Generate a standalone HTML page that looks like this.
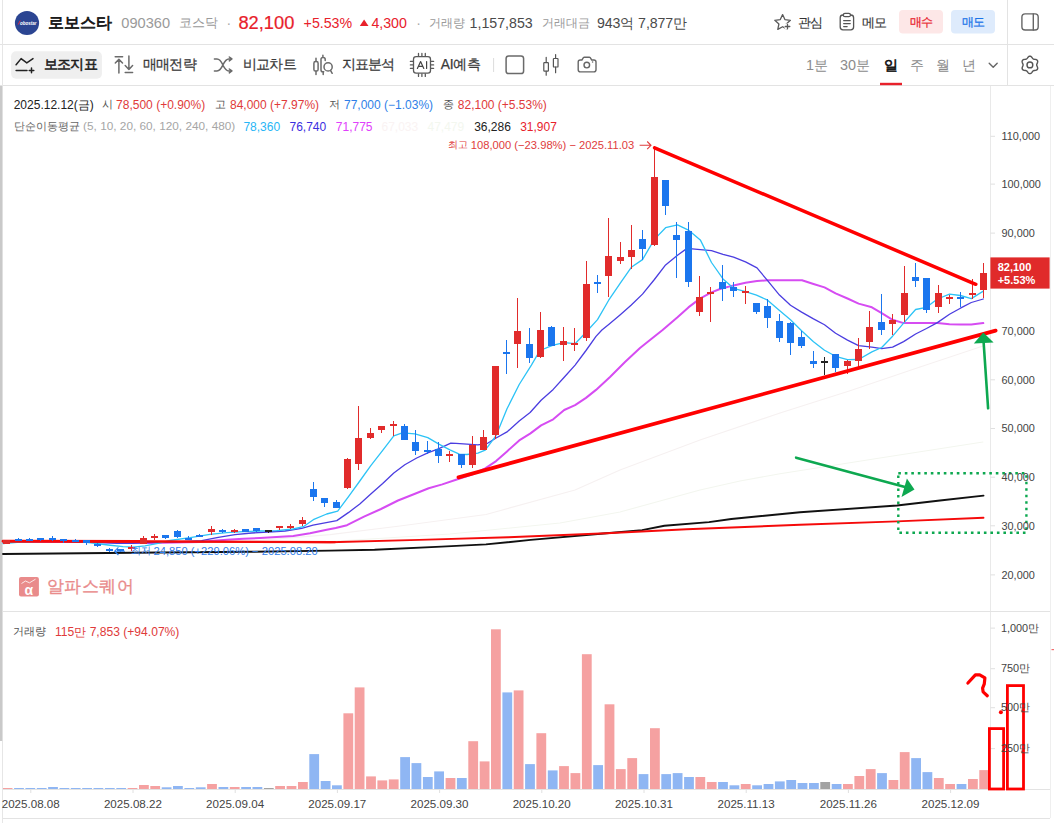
<!DOCTYPE html>
<html lang="ko"><head><meta charset="utf-8"><title>로보스타 090360</title>
<style>
html,body{margin:0;padding:0;background:#fff;}
body{width:1054px;height:823px;position:relative;overflow:hidden;font-family:"Liberation Sans",sans-serif;}
.t{position:absolute;white-space:nowrap;line-height:1;letter-spacing:0;}
</style></head><body>
<svg width="1054" height="823" viewBox="0 0 1054 823" style="position:absolute;left:0;top:0">
<rect x="0" y="0" width="1054" height="823" fill="#fff"/>
<line x1="0" y1="44.5" x2="1054" y2="44.5" stroke="#e3e3e3"/>
<line x1="0" y1="85.5" x2="1054" y2="85.5" stroke="#e3e3e3"/>
<line x1="2.5" y1="0" x2="2.5" y2="823" stroke="#e6e6e6"/>
<rect x="0" y="86" width="2.2" height="655" fill="#c9c9c9"/>
<line x1="1007.5" y1="0" x2="1007.5" y2="85" stroke="#e3e3e3"/>
<line x1="990.5" y1="86" x2="990.5" y2="789" stroke="#e9e9e9"/>
<line x1="1050.5" y1="86" x2="1050.5" y2="818" stroke="#efefef"/>
<line x1="3" y1="611.5" x2="1050" y2="611.5" stroke="#e3e3e3"/>
<line x1="3" y1="789.5" x2="1050" y2="789.5" stroke="#e3e3e3"/>
<line x1="3" y1="818.5" x2="1050" y2="818.5" stroke="#e3e3e3"/>
<line x1="990.5" y1="136.3" x2="995" y2="136.3" stroke="#e0e0e0"/>
<line x1="990.5" y1="184.1" x2="995" y2="184.1" stroke="#e0e0e0"/>
<line x1="990.5" y1="233.1" x2="995" y2="233.1" stroke="#e0e0e0"/>
<line x1="990.5" y1="281.8" x2="995" y2="281.8" stroke="#e0e0e0"/>
<line x1="990.5" y1="331.2" x2="995" y2="331.2" stroke="#e0e0e0"/>
<line x1="990.5" y1="379.8" x2="995" y2="379.8" stroke="#e0e0e0"/>
<line x1="990.5" y1="428.5" x2="995" y2="428.5" stroke="#e0e0e0"/>
<line x1="990.5" y1="477.2" x2="995" y2="477.2" stroke="#e0e0e0"/>
<line x1="990.5" y1="525.8" x2="995" y2="525.8" stroke="#e0e0e0"/>
<line x1="990.5" y1="574.9" x2="995" y2="574.9" stroke="#e0e0e0"/>
<line x1="990.5" y1="628.1" x2="995" y2="628.1" stroke="#e0e0e0"/>
<line x1="990.5" y1="668.7" x2="995" y2="668.7" stroke="#e0e0e0"/>
<line x1="990.5" y1="707.7" x2="995" y2="707.7" stroke="#e0e0e0"/>
<line x1="990.5" y1="748.6" x2="995" y2="748.6" stroke="#e0e0e0"/>
<line x1="30.8" y1="789.5" x2="30.8" y2="793" stroke="#e0e0e0"/>
<line x1="133.0" y1="789.5" x2="133.0" y2="793" stroke="#e0e0e0"/>
<line x1="235.2" y1="789.5" x2="235.2" y2="793" stroke="#e0e0e0"/>
<line x1="337.4" y1="789.5" x2="337.4" y2="793" stroke="#e0e0e0"/>
<line x1="439.6" y1="789.5" x2="439.6" y2="793" stroke="#e0e0e0"/>
<line x1="541.8" y1="789.5" x2="541.8" y2="793" stroke="#e0e0e0"/>
<line x1="644.0" y1="789.5" x2="644.0" y2="793" stroke="#e0e0e0"/>
<line x1="746.2" y1="789.5" x2="746.2" y2="793" stroke="#e0e0e0"/>
<line x1="848.4" y1="789.5" x2="848.4" y2="793" stroke="#e0e0e0"/>
<line x1="950.6" y1="789.5" x2="950.6" y2="793" stroke="#e0e0e0"/>
<rect x="3.0" y="788.0" width="9.5" height="1.0" fill="#f5a1a1"/>
<rect x="14.1" y="788.0" width="9.8" height="1.0" fill="#8fb6f3"/>
<rect x="25.4" y="788.0" width="9.8" height="1.0" fill="#8fb6f3"/>
<rect x="36.8" y="788.0" width="9.8" height="1.0" fill="#8fb6f3"/>
<rect x="48.1" y="787.0" width="9.8" height="2.0" fill="#8fb6f3"/>
<rect x="59.5" y="788.0" width="9.8" height="1.0" fill="#8fb6f3"/>
<rect x="70.8" y="788.0" width="9.8" height="1.0" fill="#8fb6f3"/>
<rect x="82.2" y="788.0" width="9.8" height="1.0" fill="#8fb6f3"/>
<rect x="93.5" y="788.0" width="9.8" height="1.0" fill="#8fb6f3"/>
<rect x="104.9" y="788.0" width="9.8" height="1.0" fill="#8fb6f3"/>
<rect x="116.3" y="788.0" width="9.8" height="1.0" fill="#8fb6f3"/>
<rect x="127.6" y="788.0" width="9.8" height="1.0" fill="#f5a1a1"/>
<rect x="139.0" y="785.0" width="9.8" height="4.0" fill="#f5a1a1"/>
<rect x="150.3" y="786.0" width="9.8" height="3.0" fill="#f5a1a1"/>
<rect x="161.7" y="787.3" width="9.8" height="1.7" fill="#8fb6f3"/>
<rect x="173.0" y="786.0" width="9.8" height="3.0" fill="#8fb6f3"/>
<rect x="184.4" y="788.0" width="9.8" height="1.0" fill="#8fb6f3"/>
<rect x="195.8" y="787.3" width="9.8" height="1.7" fill="#8fb6f3"/>
<rect x="207.1" y="784.0" width="9.8" height="5.0" fill="#f5a1a1"/>
<rect x="218.5" y="787.0" width="9.8" height="2.0" fill="#8fb6f3"/>
<rect x="229.8" y="787.0" width="9.8" height="2.0" fill="#f5a1a1"/>
<rect x="241.2" y="787.0" width="9.8" height="2.0" fill="#8fb6f3"/>
<rect x="252.5" y="787.0" width="9.8" height="2.0" fill="#8fb6f3"/>
<rect x="263.9" y="788.0" width="9.8" height="1.0" fill="#a3a3a3"/>
<rect x="275.2" y="786.0" width="9.8" height="3.0" fill="#f5a1a1"/>
<rect x="286.6" y="786.0" width="9.8" height="3.0" fill="#f5a1a1"/>
<rect x="298.0" y="782.0" width="9.8" height="7.0" fill="#f5a1a1"/>
<rect x="309.3" y="754.1" width="9.8" height="34.9" fill="#8fb6f3"/>
<rect x="320.7" y="781.0" width="9.8" height="8.0" fill="#8fb6f3"/>
<rect x="332.0" y="785.3" width="9.8" height="3.7" fill="#8fb6f3"/>
<rect x="343.4" y="713.3" width="9.8" height="75.7" fill="#f5a1a1"/>
<rect x="354.7" y="687.4" width="9.8" height="101.6" fill="#f5a1a1"/>
<rect x="366.1" y="776.4" width="9.8" height="12.6" fill="#f5a1a1"/>
<rect x="377.4" y="780.4" width="9.8" height="8.6" fill="#f5a1a1"/>
<rect x="388.8" y="779.4" width="9.8" height="9.6" fill="#f5a1a1"/>
<rect x="400.2" y="757.1" width="9.8" height="31.9" fill="#8fb6f3"/>
<rect x="411.5" y="763.1" width="9.8" height="25.9" fill="#8fb6f3"/>
<rect x="422.9" y="777.0" width="9.8" height="12.0" fill="#8fb6f3"/>
<rect x="434.2" y="771.4" width="9.8" height="17.6" fill="#8fb6f3"/>
<rect x="445.6" y="778.0" width="9.8" height="11.0" fill="#f5a1a1"/>
<rect x="456.9" y="778.0" width="9.8" height="11.0" fill="#8fb6f3"/>
<rect x="468.3" y="741.2" width="9.8" height="47.8" fill="#f5a1a1"/>
<rect x="479.7" y="761.4" width="9.8" height="27.6" fill="#f5a1a1"/>
<rect x="491.0" y="629.3" width="9.8" height="159.7" fill="#f5a1a1"/>
<rect x="502.4" y="692.4" width="9.8" height="96.6" fill="#8fb6f3"/>
<rect x="513.7" y="690.4" width="9.8" height="98.6" fill="#f5a1a1"/>
<rect x="525.1" y="764.1" width="9.8" height="24.9" fill="#8fb6f3"/>
<rect x="536.4" y="733.2" width="9.8" height="55.8" fill="#f5a1a1"/>
<rect x="547.8" y="770.4" width="9.8" height="18.6" fill="#8fb6f3"/>
<rect x="559.1" y="766.1" width="9.8" height="22.9" fill="#f5a1a1"/>
<rect x="570.5" y="773.1" width="9.8" height="15.9" fill="#f5a1a1"/>
<rect x="581.9" y="654.2" width="9.8" height="134.8" fill="#f5a1a1"/>
<rect x="593.2" y="765.1" width="9.8" height="23.9" fill="#8fb6f3"/>
<rect x="604.6" y="704.3" width="9.8" height="84.7" fill="#f5a1a1"/>
<rect x="615.9" y="769.1" width="9.8" height="19.9" fill="#f5a1a1"/>
<rect x="627.3" y="758.1" width="9.8" height="30.9" fill="#f5a1a1"/>
<rect x="638.6" y="774.1" width="9.8" height="14.9" fill="#8fb6f3"/>
<rect x="650.0" y="728.2" width="9.8" height="60.8" fill="#f5a1a1"/>
<rect x="661.3" y="774.1" width="9.8" height="14.9" fill="#8fb6f3"/>
<rect x="672.7" y="773.1" width="9.8" height="15.9" fill="#8fb6f3"/>
<rect x="684.1" y="777.0" width="9.8" height="12.0" fill="#8fb6f3"/>
<rect x="695.4" y="777.0" width="9.8" height="12.0" fill="#f5a1a1"/>
<rect x="706.8" y="782.0" width="9.8" height="7.0" fill="#f5a1a1"/>
<rect x="718.1" y="782.0" width="9.8" height="7.0" fill="#8fb6f3"/>
<rect x="729.5" y="785.3" width="9.8" height="3.7" fill="#8fb6f3"/>
<rect x="740.8" y="784.0" width="9.8" height="5.0" fill="#f5a1a1"/>
<rect x="752.2" y="785.3" width="9.8" height="3.7" fill="#8fb6f3"/>
<rect x="763.6" y="784.0" width="9.8" height="5.0" fill="#8fb6f3"/>
<rect x="774.9" y="781.4" width="9.8" height="7.6" fill="#8fb6f3"/>
<rect x="786.3" y="780.0" width="9.8" height="9.0" fill="#8fb6f3"/>
<rect x="797.6" y="783.0" width="9.8" height="6.0" fill="#8fb6f3"/>
<rect x="809.0" y="783.0" width="9.8" height="6.0" fill="#8fb6f3"/>
<rect x="820.3" y="782.0" width="9.8" height="7.0" fill="#a3a3a3"/>
<rect x="831.7" y="784.0" width="9.8" height="5.0" fill="#8fb6f3"/>
<rect x="843.0" y="784.0" width="9.8" height="5.0" fill="#f5a1a1"/>
<rect x="854.4" y="776.0" width="9.8" height="13.0" fill="#f5a1a1"/>
<rect x="865.8" y="769.1" width="9.8" height="19.9" fill="#f5a1a1"/>
<rect x="877.1" y="773.1" width="9.8" height="15.9" fill="#8fb6f3"/>
<rect x="888.5" y="780.0" width="9.8" height="9.0" fill="#f5a1a1"/>
<rect x="899.8" y="752.1" width="9.8" height="36.9" fill="#f5a1a1"/>
<rect x="911.2" y="758.1" width="9.8" height="30.9" fill="#8fb6f3"/>
<rect x="922.5" y="772.1" width="9.8" height="16.9" fill="#8fb6f3"/>
<rect x="933.9" y="778.0" width="9.8" height="11.0" fill="#f5a1a1"/>
<rect x="945.2" y="784.0" width="9.8" height="5.0" fill="#f5a1a1"/>
<rect x="956.6" y="784.0" width="9.8" height="5.0" fill="#8fb6f3"/>
<rect x="968.0" y="779.0" width="9.8" height="10.0" fill="#f5a1a1"/>
<rect x="979.3" y="770.1" width="9.8" height="18.9" fill="#f5a1a1"/>
<polyline points="250.0,541.0 330.0,534.6 400.0,526.0 486.0,514.5 575.0,490.0 620.0,470.0 700.0,440.0 780.0,413.0 850.0,390.8 920.0,367.0 983.0,346.0" fill="none" stroke="#f6f1f1" stroke-width="1.1" stroke-linejoin="round" stroke-linecap="round" />
<polyline points="330.0,541.5 450.0,534.0 560.0,523.0 620.0,512.0 660.0,501.0 700.0,490.0 740.0,481.0 780.0,473.8 880.0,458.0 983.0,442.0" fill="none" stroke="#f3f6ef" stroke-width="1.1" stroke-linejoin="round" stroke-linecap="round" />
<polyline points="3.0,541.5 100.0,542.0 150.0,543.0 200.0,542.0 210.0,541.0 226.7,539.7 243.3,538.7 260.0,538.0 276.7,537.0 293.3,536.0 310.0,533.3 326.7,529.7 335.7,528.0 347.0,525.2 364.0,516.7 381.0,509.0 398.0,500.5 415.0,493.7 428.7,488.3 442.3,484.4 456.0,479.8 472.0,474.5 485.2,468.4 496.1,461.1 507.0,451.4 519.2,440.4 530.1,433.6 541.1,425.4 553.2,419.3 564.2,410.0 575.1,405.2 586.0,397.9 596.0,389.9 610.0,377.0 625.0,362.0 640.0,348.0 650.0,340.0 662.6,330.0 677.5,317.2 688.4,307.4 700.3,298.4 711.5,292.4 720.0,289.0 733.6,285.4 745.5,282.7 757.0,281.0 767.6,280.3 779.5,280.3 790.5,280.3 802.0,280.3 813.5,284.0 824.5,287.4 835.6,293.4 847.5,298.5 858.6,303.6 871.9,307.3 881.7,313.2 892.6,319.8 903.6,323.1 915.6,323.1 926.5,323.1 937.4,323.1 949.5,324.2 960.4,324.4 971.3,324.4 983.3,323.1" fill="none" stroke="#d64cf2" stroke-width="2" stroke-linejoin="round" stroke-linecap="round" />
<polyline points="3.0,541.5 60.0,541.5 100.0,542.5 116.7,543.3 133.0,543.3 150.0,542.5 175.7,542.0 201.7,540.7 218.3,537.3 235.0,534.7 251.7,533.0 268.3,532.0 285.0,531.0 301.7,528.3 313.0,525.2 336.8,520.6 348.7,512.4 359.8,503.9 370.8,494.1 382.7,483.5 393.8,473.0 404.8,464.8 416.7,458.0 427.8,452.9 438.9,448.7 450.8,443.1 456.0,443.3 477.9,444.8 487.6,443.3 496.1,438.0 507.0,431.9 519.2,421.0 530.1,412.5 541.1,400.3 553.2,389.4 564.2,377.2 575.1,365.1 586.0,350.5 596.0,336.4 601.9,330.0 608.7,324.5 620.3,314.7 631.3,305.0 642.5,294.1 654.4,279.5 665.6,264.9 677.5,255.2 687.0,248.4 700.3,249.6 711.5,250.6 723.0,254.3 733.6,257.1 745.5,261.9 757.0,267.9 767.6,280.6 779.5,295.1 790.5,305.3 801.6,312.1 813.5,318.9 824.5,324.8 835.6,333.3 847.5,340.1 858.6,345.6 871.9,347.1 881.7,348.6 892.6,347.1 903.6,341.6 915.6,334.0 926.5,328.5 937.4,322.6 949.5,314.3 960.4,308.2 971.3,302.5 983.3,299.0" fill="none" stroke="#4b3de0" stroke-width="1.3" stroke-linejoin="round" stroke-linecap="round" />
<polyline points="3.0,543.5 20.0,542.0 50.0,541.0 80.0,541.5 93.0,543.0 108.0,545.0 123.0,546.7 133.0,547.2 145.0,545.8 158.0,543.3 170.0,540.5 190.0,537.7 210.0,534.3 226.7,532.7 243.3,531.7 260.0,531.0 276.7,530.7 293.3,529.0 303.3,526.7 313.3,519.7 326.7,514.0 337.7,511.1 348.7,496.3 359.8,481.0 370.8,465.7 382.7,450.4 393.8,435.9 402.3,432.9 415.0,433.9 427.8,437.6 438.9,444.1 449.9,449.9 459.3,454.1 466.9,454.5 477.9,453.1 485.2,450.2 496.1,435.6 507.0,408.8 519.2,384.5 531.4,365.1 539.9,350.5 553.2,345.1 564.2,342.7 575.1,343.7 586.0,332.3 597.5,319.6 608.7,300.2 620.3,283.1 631.3,267.3 642.5,259.6 654.4,239.4 665.6,227.7 677.5,224.8 688.4,230.1 700.3,239.9 711.5,262.5 723.0,278.9 733.6,288.3 745.5,291.7 756.5,295.1 767.6,300.2 779.5,310.4 790.5,319.7 801.6,330.8 813.5,341.8 824.5,350.3 835.6,356.3 847.5,359.7 858.6,359.5 871.9,351.9 881.7,347.5 892.6,336.2 903.6,323.1 915.6,309.5 926.5,307.3 937.4,299.0 949.5,294.2 960.4,295.5 971.3,298.6 983.3,291.1" fill="none" stroke="#2cc3f6" stroke-width="1.3" stroke-linejoin="round" stroke-linecap="round" />
<polyline points="3.0,554.0 160.0,552.5 250.0,551.8 330.0,550.6 374.6,549.8 441.5,546.6 486.0,544.4 530.7,539.9 606.5,533.3 642.1,530.1 664.4,525.7 709.0,522.1 731.3,519.0 800.0,512.3 897.0,505.5 940.0,500.5 983.5,495.6" fill="none" stroke="#111111" stroke-width="1.9" stroke-linejoin="round" stroke-linecap="round" />
<polyline points="3.0,541.2 160.0,541.5 330.0,542.2 419.2,539.9 508.4,537.3 606.5,533.3 686.7,529.2 800.0,524.8 897.0,521.4 983.5,517.7" fill="none" stroke="#f50a0a" stroke-width="1.9" stroke-linejoin="round" stroke-linecap="round" />
<polyline points="3.0,541.2 160.0,541.5 335.0,542.2" fill="none" stroke="#f50a0a" stroke-width="2.2" stroke-linejoin="round" stroke-linecap="round" />
<polyline points="3.0,541.2 145.0,541.4" fill="none" stroke="#f50a0a" stroke-width="2.8" stroke-linejoin="round" stroke-linecap="round" />
<rect x="6" y="540" width="1" height="4" fill="#e12b2b"/>
<rect x="3" y="540" width="7" height="4" fill="#e12b2b"/>
<rect x="18" y="538" width="1" height="3" fill="#1b76ee"/>
<rect x="15" y="539" width="7" height="2" fill="#1b76ee"/>
<rect x="29" y="538" width="1" height="3" fill="#1b76ee"/>
<rect x="26" y="539" width="7" height="2" fill="#1b76ee"/>
<rect x="40" y="538" width="1" height="3" fill="#1b76ee"/>
<rect x="37" y="538" width="7" height="2" fill="#1b76ee"/>
<rect x="52" y="536" width="1" height="5" fill="#1b76ee"/>
<rect x="49" y="538" width="7" height="2" fill="#1b76ee"/>
<rect x="63" y="539" width="1" height="4" fill="#1b76ee"/>
<rect x="60" y="539" width="7" height="2" fill="#1b76ee"/>
<rect x="75" y="539" width="1" height="3" fill="#1b76ee"/>
<rect x="72" y="540" width="7" height="2" fill="#1b76ee"/>
<rect x="86" y="540" width="1" height="5" fill="#1b76ee"/>
<rect x="83" y="540" width="7" height="3" fill="#1b76ee"/>
<rect x="97" y="543" width="1" height="4" fill="#1b76ee"/>
<rect x="94" y="544" width="7" height="2" fill="#1b76ee"/>
<rect x="109" y="548" width="1" height="4" fill="#1b76ee"/>
<rect x="106" y="549" width="7" height="2" fill="#1b76ee"/>
<rect x="120" y="549" width="1" height="3" fill="#1b76ee"/>
<rect x="117" y="549" width="7" height="2" fill="#1b76ee"/>
<rect x="131" y="545" width="1" height="6" fill="#e12b2b"/>
<rect x="128" y="547" width="7" height="2" fill="#e12b2b"/>
<rect x="143" y="536" width="1" height="8" fill="#e12b2b"/>
<rect x="140" y="538" width="7" height="6" fill="#e12b2b"/>
<rect x="154" y="534" width="1" height="6" fill="#e12b2b"/>
<rect x="151" y="536" width="7" height="2" fill="#e12b2b"/>
<rect x="165" y="535" width="1" height="4" fill="#1b76ee"/>
<rect x="162" y="535" width="7" height="3" fill="#1b76ee"/>
<rect x="177" y="530" width="1" height="8" fill="#1b76ee"/>
<rect x="174" y="531" width="7" height="6" fill="#1b76ee"/>
<rect x="188" y="536" width="1" height="4" fill="#1b76ee"/>
<rect x="185" y="538" width="7" height="2" fill="#1b76ee"/>
<rect x="199" y="534" width="1" height="3" fill="#1b76ee"/>
<rect x="196" y="535" width="7" height="2" fill="#1b76ee"/>
<rect x="211" y="526" width="1" height="9" fill="#e12b2b"/>
<rect x="208" y="529" width="7" height="3" fill="#e12b2b"/>
<rect x="222" y="529" width="1" height="4" fill="#1b76ee"/>
<rect x="219" y="530" width="7" height="2" fill="#1b76ee"/>
<rect x="234" y="529" width="1" height="4" fill="#e12b2b"/>
<rect x="231" y="530" width="7" height="2" fill="#e12b2b"/>
<rect x="245" y="529" width="1" height="3" fill="#1b76ee"/>
<rect x="242" y="529" width="7" height="3" fill="#1b76ee"/>
<rect x="256" y="528" width="1" height="4" fill="#1b76ee"/>
<rect x="253" y="528" width="7" height="3" fill="#1b76ee"/>
<rect x="268" y="530" width="1" height="3" fill="#222222"/>
<rect x="265" y="530" width="7" height="2" fill="#222222"/>
<rect x="279" y="526" width="1" height="4" fill="#e12b2b"/>
<rect x="276" y="526" width="7" height="2" fill="#e12b2b"/>
<rect x="290" y="524" width="1" height="5" fill="#e12b2b"/>
<rect x="287" y="526" width="7" height="2" fill="#e12b2b"/>
<rect x="302" y="517" width="1" height="9" fill="#e12b2b"/>
<rect x="299" y="520" width="7" height="4" fill="#e12b2b"/>
<rect x="313" y="482" width="1" height="19" fill="#1b76ee"/>
<rect x="310" y="489" width="7" height="8" fill="#1b76ee"/>
<rect x="324" y="498" width="1" height="9" fill="#1b76ee"/>
<rect x="321" y="498" width="7" height="5" fill="#1b76ee"/>
<rect x="336" y="500" width="1" height="8" fill="#1b76ee"/>
<rect x="333" y="502" width="7" height="6" fill="#1b76ee"/>
<rect x="347" y="458" width="1" height="31" fill="#e12b2b"/>
<rect x="344" y="459" width="7" height="29" fill="#e12b2b"/>
<rect x="358" y="406" width="1" height="64" fill="#e12b2b"/>
<rect x="355" y="438" width="7" height="26" fill="#e12b2b"/>
<rect x="370" y="428" width="1" height="11" fill="#e12b2b"/>
<rect x="367" y="433" width="7" height="5" fill="#e12b2b"/>
<rect x="381" y="426" width="1" height="7" fill="#e12b2b"/>
<rect x="378" y="426" width="7" height="4" fill="#e12b2b"/>
<rect x="393" y="421" width="1" height="15" fill="#e12b2b"/>
<rect x="390" y="424" width="7" height="2" fill="#e12b2b"/>
<rect x="404" y="424" width="1" height="16" fill="#1b76ee"/>
<rect x="401" y="426" width="7" height="14" fill="#1b76ee"/>
<rect x="415" y="430" width="1" height="25" fill="#1b76ee"/>
<rect x="412" y="442" width="7" height="9" fill="#1b76ee"/>
<rect x="427" y="441" width="1" height="13" fill="#1b76ee"/>
<rect x="424" y="450" width="7" height="2" fill="#1b76ee"/>
<rect x="438" y="442" width="1" height="21" fill="#1b76ee"/>
<rect x="435" y="449" width="7" height="7" fill="#1b76ee"/>
<rect x="449" y="451" width="1" height="11" fill="#e12b2b"/>
<rect x="446" y="454" width="7" height="2" fill="#e12b2b"/>
<rect x="461" y="454" width="1" height="14" fill="#1b76ee"/>
<rect x="458" y="454" width="7" height="11" fill="#1b76ee"/>
<rect x="472" y="436" width="1" height="32" fill="#e12b2b"/>
<rect x="469" y="445" width="7" height="20" fill="#e12b2b"/>
<rect x="483" y="430" width="1" height="20" fill="#e12b2b"/>
<rect x="480" y="437" width="7" height="13" fill="#e12b2b"/>
<rect x="495" y="366" width="1" height="73" fill="#e12b2b"/>
<rect x="492" y="366" width="7" height="69" fill="#e12b2b"/>
<rect x="506" y="340" width="1" height="34" fill="#1b76ee"/>
<rect x="503" y="352" width="7" height="2" fill="#1b76ee"/>
<rect x="517" y="298" width="1" height="70" fill="#e12b2b"/>
<rect x="514" y="331" width="7" height="13" fill="#e12b2b"/>
<rect x="529" y="328" width="1" height="35" fill="#1b76ee"/>
<rect x="526" y="344" width="7" height="14" fill="#1b76ee"/>
<rect x="540" y="312" width="1" height="46" fill="#e12b2b"/>
<rect x="537" y="330" width="7" height="27" fill="#e12b2b"/>
<rect x="551" y="326" width="1" height="20" fill="#1b76ee"/>
<rect x="548" y="327" width="7" height="19" fill="#1b76ee"/>
<rect x="563" y="327" width="1" height="34" fill="#e12b2b"/>
<rect x="560" y="341" width="7" height="4" fill="#e12b2b"/>
<rect x="574" y="328" width="1" height="23" fill="#e12b2b"/>
<rect x="571" y="343" width="7" height="2" fill="#e12b2b"/>
<rect x="586" y="261" width="1" height="80" fill="#e12b2b"/>
<rect x="583" y="284" width="7" height="54" fill="#e12b2b"/>
<rect x="597" y="275" width="1" height="18" fill="#1b76ee"/>
<rect x="594" y="282" width="7" height="2" fill="#1b76ee"/>
<rect x="608" y="218" width="1" height="79" fill="#e12b2b"/>
<rect x="605" y="256" width="7" height="20" fill="#e12b2b"/>
<rect x="620" y="242" width="1" height="22" fill="#e12b2b"/>
<rect x="617" y="257" width="7" height="4" fill="#e12b2b"/>
<rect x="631" y="225" width="1" height="44" fill="#e12b2b"/>
<rect x="628" y="250" width="7" height="7" fill="#e12b2b"/>
<rect x="642" y="230" width="1" height="30" fill="#1b76ee"/>
<rect x="639" y="239" width="7" height="10" fill="#1b76ee"/>
<rect x="654" y="146" width="1" height="100" fill="#e12b2b"/>
<rect x="651" y="177" width="7" height="68" fill="#e12b2b"/>
<rect x="665" y="180" width="1" height="35" fill="#1b76ee"/>
<rect x="662" y="180" width="7" height="26" fill="#1b76ee"/>
<rect x="676" y="222" width="1" height="56" fill="#1b76ee"/>
<rect x="673" y="235" width="7" height="5" fill="#1b76ee"/>
<rect x="688" y="222" width="1" height="65" fill="#1b76ee"/>
<rect x="685" y="231" width="7" height="51" fill="#1b76ee"/>
<rect x="699" y="276" width="1" height="40" fill="#e12b2b"/>
<rect x="696" y="297" width="7" height="15" fill="#e12b2b"/>
<rect x="710" y="287" width="1" height="35" fill="#e12b2b"/>
<rect x="707" y="292" width="7" height="2" fill="#e12b2b"/>
<rect x="722" y="265" width="1" height="36" fill="#1b76ee"/>
<rect x="719" y="282" width="7" height="7" fill="#1b76ee"/>
<rect x="733" y="282" width="1" height="15" fill="#1b76ee"/>
<rect x="730" y="287" width="7" height="4" fill="#1b76ee"/>
<rect x="745" y="286" width="1" height="18" fill="#e12b2b"/>
<rect x="742" y="291" width="7" height="2" fill="#e12b2b"/>
<rect x="756" y="303" width="1" height="11" fill="#1b76ee"/>
<rect x="753" y="303" width="7" height="9" fill="#1b76ee"/>
<rect x="767" y="299" width="1" height="29" fill="#1b76ee"/>
<rect x="764" y="306" width="7" height="12" fill="#1b76ee"/>
<rect x="779" y="314" width="1" height="28" fill="#1b76ee"/>
<rect x="776" y="321" width="7" height="17" fill="#1b76ee"/>
<rect x="790" y="322" width="1" height="33" fill="#1b76ee"/>
<rect x="787" y="323" width="7" height="20" fill="#1b76ee"/>
<rect x="801" y="331" width="1" height="17" fill="#1b76ee"/>
<rect x="798" y="337" width="7" height="9" fill="#1b76ee"/>
<rect x="813" y="351" width="1" height="17" fill="#1b76ee"/>
<rect x="810" y="361" width="7" height="3" fill="#1b76ee"/>
<rect x="824" y="357" width="1" height="18" fill="#222222"/>
<rect x="821" y="361" width="7" height="2" fill="#222222"/>
<rect x="835" y="354" width="1" height="18" fill="#1b76ee"/>
<rect x="832" y="354" width="7" height="14" fill="#1b76ee"/>
<rect x="847" y="360" width="1" height="14" fill="#e12b2b"/>
<rect x="844" y="361" width="7" height="5" fill="#e12b2b"/>
<rect x="858" y="338" width="1" height="29" fill="#e12b2b"/>
<rect x="855" y="349" width="7" height="12" fill="#e12b2b"/>
<rect x="869" y="311" width="1" height="38" fill="#e12b2b"/>
<rect x="866" y="327" width="7" height="15" fill="#e12b2b"/>
<rect x="881" y="294" width="1" height="41" fill="#1b76ee"/>
<rect x="878" y="322" width="7" height="8" fill="#1b76ee"/>
<rect x="892" y="314" width="1" height="21" fill="#e12b2b"/>
<rect x="889" y="320" width="7" height="4" fill="#e12b2b"/>
<rect x="904" y="266" width="1" height="56" fill="#e12b2b"/>
<rect x="901" y="293" width="7" height="22" fill="#e12b2b"/>
<rect x="915" y="263" width="1" height="24" fill="#1b76ee"/>
<rect x="912" y="277" width="7" height="4" fill="#1b76ee"/>
<rect x="926" y="278" width="1" height="35" fill="#1b76ee"/>
<rect x="923" y="278" width="7" height="32" fill="#1b76ee"/>
<rect x="938" y="285" width="1" height="28" fill="#e12b2b"/>
<rect x="935" y="293" width="7" height="14" fill="#e12b2b"/>
<rect x="949" y="295" width="1" height="9" fill="#e12b2b"/>
<rect x="946" y="297" width="7" height="2" fill="#e12b2b"/>
<rect x="960" y="292" width="1" height="15" fill="#1b76ee"/>
<rect x="957" y="297" width="7" height="2" fill="#1b76ee"/>
<rect x="972" y="279" width="1" height="20" fill="#e12b2b"/>
<rect x="969" y="293" width="7" height="2" fill="#e12b2b"/>
<rect x="983" y="263" width="1" height="35" fill="#e12b2b"/>
<rect x="980" y="273" width="7" height="17" fill="#e12b2b"/>
<line x1="654.6" y1="147.8" x2="975.8" y2="284.3" stroke="#ff0000" stroke-width="3.5" stroke-linecap="round"/>
<line x1="458.5" y1="477.3" x2="995.6" y2="330.6" stroke="#ff0000" stroke-width="3.8" stroke-linecap="round"/>
<line x1="988.1" y1="408.3" x2="983.6" y2="342" stroke="#0da850" stroke-width="2.6" stroke-linecap="round"/>
<polygon points="983.3,332.5 973.8,343.5 993.6,342.6" fill="#0da850"/>
<line x1="796.1" y1="457.7" x2="905" y2="487" stroke="#0da850" stroke-width="2.6" stroke-linecap="round"/>
<polygon points="914.5,489.6 906.9,478.6 901.5,497" fill="#0da850"/>
<rect x="898.3" y="473.3" width="128.1" height="59.5" fill="none" stroke="#0da850" stroke-width="2.4" stroke-dasharray="2.6 3.9"/>
<rect x="989.4" y="728.6" width="14.2" height="60.4" fill="none" stroke="#ff0000" stroke-width="2.8"/>
<rect x="1007.4" y="685.6" width="16.1" height="103.4" fill="none" stroke="#ff0000" stroke-width="2.8"/>
<path d="M967.9,683 L975.4,674.9 L979.7,674.9 L984.9,677.9 L984.3,683.8 L982.6,688.1 L983.1,691.9 L987.3,695.7" fill="none" stroke="#ff0000" stroke-width="3.2" stroke-linecap="round" stroke-linejoin="round"/>
<circle cx="1000.9" cy="712.3" r="2" fill="#ff0000"/>
<rect x="1051.5" y="649" width="2.5" height="1.2" fill="#f26d6d"/>
<path d="M639.6,145.3 H651 M647.2,141.5 L651,145.3 L647.2,149.1" fill="none" stroke="#e03c3c" stroke-width="1.1"/>
<path d="M125,551.2 H114.6 M118.4,547.4 L114.6,551.2 L118.4,555" fill="none" stroke="#2f80ed" stroke-width="1.1"/>
<rect x="990.4" y="257.4" width="59.2" height="31.2" fill="#e02a2a"/>
<rect x="19" y="577.1" width="19.9" height="19.5" rx="2" fill="#e98b8b"/>
<polyline points="21.5,583.5 25.5,581 29.5,582.8 35.5,579.2" fill="none" stroke="#fff" stroke-width="0.8"/>
<circle cx="27" cy="23" r="12.1" fill="#2b4592"/>
<path d="M18.2,24.6 L20.2,20.6" stroke="#e3263a" stroke-width="1" fill="none"/>
<text x="28.2" y="24.6" font-family="Liberation Sans, sans-serif" font-size="4.5" font-weight="bold" font-style="italic" fill="#fff" text-anchor="middle">obostar</text>
<rect x="11.1" y="51.3" width="90.8" height="27.5" rx="5" fill="#efefef"/>
<g fill="none" stroke-linecap="round" stroke-linejoin="round" stroke="#222" stroke-width="1.5"><polyline points="16.1,64.8 21.1,58.6 26.8,62.9 33,58.6"/><path d="M16.1,70.4 H27 M29.2,70.4 h4.6 M31.5,68.1 v4.6"/></g>
<g fill="none" stroke-linecap="round" stroke-linejoin="round" stroke="#6b6b6b" stroke-width="1.5"><path d="M115.2,56.7 H122.6 M118.9,59.4 V73 M115.3,63 L118.9,59.4 L122.5,63 M128.9,56 V69.4 M125.2,65.6 L128.9,69.4 L132.6,65.6 M125.2,72.6 H132.6"/></g>
<g fill="none" stroke-linecap="round" stroke-linejoin="round" stroke="#6b6b6b" stroke-width="1.5"><path d="M214.4,59 h2.6 c3.2,0 4.5,3 5.9,6 c1.4,3 2.8,5.9 6,5.9 h2.4 M214.4,70.9 h2.6 c3.2,0 4.5,-2.9 5.9,-5.9 c1.4,-3 2.8,-6 6,-6 h2.4 M229.3,57 l2.6,1.95 l-2.6,1.95 M229.3,69 l2.6,1.95 l-2.6,1.95"/></g>
<g fill="none" stroke-linecap="round" stroke-linejoin="round" stroke="#6b6b6b" stroke-width="1.5"><rect x="313.9" y="61.6" width="4.2" height="9.4" rx="1.6"/><path d="M316,58.3 V61.4 M316,71.2 V74.6 M322.9,55.2 V57.4 M325.2,60.4 v-1 a2,2 0 0 0 -2,-2 h-0.4 a1.8,1.8 0 0 0 -1.8,1.8 V70 a1.8,1.8 0 0 0 1.8,1.8 h0.9 M323.2,72 V74.6"/><circle cx="328.1" cy="66.9" r="4.1"/><path d="M330.5,70.4 L332.2,73.3"/></g>
<g fill="none" stroke-linecap="round" stroke-linejoin="round" stroke="#5a5a5a" stroke-width="1.3"><rect x="413.5" y="56.6" width="17" height="16.6" rx="2.6"/><path d="M418.5,53.4 V56 M421.9,53.4 V56 M425.3,53.4 V56 M418.5,73.9 V76.4 M421.9,73.9 V76.4 M425.3,73.9 V76.4 M410.4,61.4 H413 M410.4,64.9 H413 M410.4,68.4 H413 M431.2,61.4 H433.6 M431.2,64.9 H433.6 M431.2,68.4 H433.6"/><path d="M417.4,68.5 L420.6,61.5 L423.8,68.5 M418.6,66.3 H422.6 M426.6,61.5 V68.5" stroke="#444" stroke-width="1.2"/></g>
<line x1="493.6" y1="58" x2="493.6" y2="72" stroke="#dcdcdc"/>
<rect x="506.1" y="55.9" width="17.5" height="17.6" rx="2.6" fill="none" stroke="#6a6a6a" stroke-width="1.5"/>
<g fill="none" stroke-linecap="round" stroke-linejoin="round" stroke="#555" stroke-width="1.2"><rect x="543.8" y="62.7" width="4.6" height="8.5" rx="0.6"/><path d="M546.2,57.3 V62.5 M546.2,71.4 V75.2"/><rect x="553.4" y="58.5" width="4.6" height="8.5" rx="0.6"/><path d="M555.6,54.6 V58.3 M555.6,67.2 V72.7"/></g>
<g fill="none" stroke-linecap="round" stroke-linejoin="round" stroke="#666" stroke-width="1.4"><path d="M580.3,60 h1.6 l1.5,-2.3 a1.2,1.2 0 0 1 1,-0.5 h4.8 a1.2,1.2 0 0 1 1,0.5 l1.5,2.3 h2.2 a2.1,2.1 0 0 1 2.1,2.1 v7.7 a2.1,2.1 0 0 1 -2.1,2.1 h-13.6 a2.1,2.1 0 0 1 -2.1,-2.1 v-7.7 a2.1,2.1 0 0 1 2.1,-2.1 z"/><circle cx="586.8" cy="65.1" r="2.8"/></g><circle cx="592.6" cy="62" r="0.8" fill="#666"/>
<polygon points="782.6,14.6 784.9,19.6 790.4,20.3 786.3,24.0 787.4,29.4 782.6,26.7 777.8,29.4 778.9,24.0 774.8,20.3 780.3,19.6" fill="none" stroke-linecap="round" stroke-linejoin="round" stroke="#5a5a5a" stroke-width="1.3"/>
<circle cx="787.6" cy="26.6" r="3.3" fill="#fff"/>
<path d="M785.2,26.5 h4.6 M787.5,24.2 v4.6" fill="none" stroke-linecap="round" stroke-linejoin="round" stroke="#5a5a5a" stroke-width="1.3"/>
<g fill="none" stroke-linecap="round" stroke-linejoin="round" stroke="#555" stroke-width="1.3"><rect x="840.2" y="15" width="13.4" height="14.9" rx="2.8"/><rect x="843.4" y="13.3" width="7" height="3.4" rx="1.5" fill="#fff"/><path d="M843.6,20.6 H850.3 M843.6,23.6 H850.3 M843.6,26.6 H847.2" stroke-width="1.1"/></g>
<rect x="899" y="10" width="44" height="23.6" rx="4" fill="#fde7e7"/>
<rect x="951" y="10" width="44" height="23.6" rx="4" fill="#deebfc"/>
<g fill="none" stroke-linecap="round" stroke-linejoin="round" stroke="#666" stroke-width="1.4"><rect x="1021.9" y="13.9" width="16.3" height="16.1" rx="3.2"/><path d="M1033.3,14 V30"/></g>
<polygon points="1036.70,64.90 1036.74,65.26 1036.84,65.63 1037.00,66.03 1037.19,66.45 1037.39,66.91 1037.55,67.39 1037.66,67.88 1037.68,68.36 1037.61,68.83 1037.43,69.25 1037.16,69.61 1036.79,69.91 1036.36,70.13 1035.88,70.28 1035.38,70.38 1034.89,70.44 1034.43,70.49 1034.00,70.55 1033.63,70.64 1033.30,70.79 1033.01,71.00 1032.74,71.28 1032.48,71.61 1032.20,71.99 1031.91,72.39 1031.57,72.77 1031.20,73.11 1030.79,73.37 1030.35,73.54 1029.90,73.60 1029.45,73.54 1029.01,73.37 1028.60,73.11 1028.23,72.77 1027.89,72.39 1027.60,71.99 1027.32,71.61 1027.06,71.28 1026.79,71.00 1026.50,70.79 1026.17,70.64 1025.80,70.55 1025.37,70.49 1024.91,70.44 1024.42,70.38 1023.92,70.28 1023.44,70.13 1023.01,69.91 1022.64,69.61 1022.37,69.25 1022.19,68.83 1022.12,68.36 1022.14,67.88 1022.25,67.39 1022.41,66.91 1022.61,66.45 1022.80,66.03 1022.96,65.63 1023.06,65.26 1023.10,64.90 1023.06,64.54 1022.96,64.17 1022.80,63.77 1022.61,63.35 1022.41,62.89 1022.25,62.41 1022.14,61.92 1022.12,61.44 1022.19,60.97 1022.37,60.55 1022.64,60.19 1023.01,59.89 1023.44,59.67 1023.92,59.52 1024.42,59.42 1024.91,59.36 1025.37,59.31 1025.80,59.25 1026.17,59.16 1026.50,59.01 1026.79,58.80 1027.06,58.52 1027.32,58.19 1027.60,57.81 1027.89,57.41 1028.23,57.03 1028.60,56.69 1029.01,56.43 1029.45,56.26 1029.90,56.20 1030.35,56.26 1030.79,56.43 1031.20,56.69 1031.57,57.03 1031.91,57.41 1032.20,57.81 1032.48,58.19 1032.74,58.52 1033.01,58.80 1033.30,59.01 1033.63,59.16 1034.00,59.25 1034.43,59.31 1034.89,59.36 1035.38,59.42 1035.88,59.52 1036.36,59.67 1036.79,59.89 1037.16,60.19 1037.43,60.55 1037.61,60.97 1037.68,61.44 1037.66,61.92 1037.55,62.41 1037.39,62.89 1037.19,63.35 1037.00,63.77 1036.84,64.17 1036.74,64.54" fill="none" stroke-linecap="round" stroke-linejoin="round" stroke="#555" stroke-width="1.4"/>
<circle cx="1029.9" cy="64.9" r="2.9" fill="none" stroke="#555" stroke-width="1.4"/>
<path d="M989.2,63.2 L993.2,67.2 L997.2,63.2" fill="none" stroke-linecap="round" stroke-linejoin="round" stroke="#666" stroke-width="1.4"/>
<rect x="880" y="82.8" width="22" height="2.4" fill="#e8212b"/>
<polygon points="364.1,19.4 368.5,26 359.8,26" fill="#e8212b"/>
</svg>
<div class="t" style="left:48.2px;top:14.8px;font-size:16px;color:#111;-webkit-text-stroke:0.7px currentColor;">로보스타</div>
<div class="t" style="left:121.3px;top:15.8px;font-size:14.6px;color:#9a9a9a;">090360</div>
<div class="t" style="left:179.0px;top:16.8px;font-size:12.6px;color:#9a9a9a;">코스닥</div>
<div class="t" style="left:226.5px;top:15.6px;font-size:14px;color:#aaa;">·</div>
<div class="t" style="left:238.4px;top:13.6px;font-size:18.3px;color:#e8212b;-webkit-text-stroke:0.2px currentColor;">82,100</div>
<div class="t" style="left:303.6px;top:15.8px;font-size:14.2px;color:#e8212b;">+5.53%</div>
<div class="t" style="left:371.4px;top:15.8px;font-size:14.2px;color:#e8212b;">4,300</div>
<div class="t" style="left:416.2px;top:15.6px;font-size:14px;color:#aaa;">·</div>
<div class="t" style="left:428.5px;top:17.0px;font-size:12.2px;color:#9a9a9a;">거래량</div>
<div class="t" style="left:469.6px;top:16.0px;font-size:14.2px;color:#4a4a4a;">1,157,853</div>
<div class="t" style="left:542.0px;top:17.0px;font-size:12.2px;color:#9a9a9a;">거래대금</div>
<div class="t" style="left:597.0px;top:16.0px;font-size:14.2px;color:#4a4a4a;letter-spacing:-0.1px;">943억 7,877만</div>
<div class="t" style="left:797.9px;top:15.7px;font-size:13.2px;color:#333;letter-spacing:-1px;-webkit-text-stroke:0.12px currentColor;">관심</div>
<div class="t" style="left:862.0px;top:15.7px;font-size:13.2px;color:#333;letter-spacing:-1px;-webkit-text-stroke:0.12px currentColor;">메모</div>
<div class="t" style="left:821.3px;width:200px;text-align:center;top:16.2px;font-size:12.2px;color:#e8212b;letter-spacing:-0.4px;-webkit-text-stroke:0.22px currentColor;">매수</div>
<div class="t" style="left:873.3px;width:200px;text-align:center;top:16.2px;font-size:12.2px;color:#1a73e8;letter-spacing:-0.4px;-webkit-text-stroke:0.22px currentColor;">매도</div>
<div class="t" style="left:43.7px;top:58.2px;font-size:13.8px;color:#1e1e1e;letter-spacing:-0.6px;-webkit-text-stroke:0.55px currentColor;">보조지표</div>
<div class="t" style="left:142.9px;top:58.2px;font-size:13.8px;color:#3a3a3a;letter-spacing:-0.7px;-webkit-text-stroke:0.25px currentColor;">매매전략</div>
<div class="t" style="left:242.8px;top:58.2px;font-size:13.8px;color:#3a3a3a;letter-spacing:-0.7px;-webkit-text-stroke:0.25px currentColor;">비교차트</div>
<div class="t" style="left:341.5px;top:58.2px;font-size:13.8px;color:#3a3a3a;letter-spacing:-0.7px;-webkit-text-stroke:0.25px currentColor;">지표분석</div>
<div class="t" style="left:440.8px;top:58.2px;font-size:13.8px;color:#3a3a3a;letter-spacing:-0.2px;-webkit-text-stroke:0.25px currentColor;">AI예측</div>
<div class="t" style="left:806.0px;top:57.9px;font-size:14.4px;color:#8c8c8c;">1분</div>
<div class="t" style="left:840.0px;top:57.9px;font-size:14.4px;color:#8c8c8c;">30분</div>
<div class="t" style="left:884.4px;top:57.9px;font-size:14.4px;color:#111;-webkit-text-stroke:0.6px currentColor;">일</div>
<div class="t" style="left:909.6px;top:57.9px;font-size:14.4px;color:#8c8c8c;">주</div>
<div class="t" style="left:936.0px;top:57.9px;font-size:14.4px;color:#8c8c8c;">월</div>
<div class="t" style="left:962.0px;top:57.9px;font-size:14.4px;color:#8c8c8c;">년</div>
<div class="t" style="left:13.7px;top:98.9px;font-size:12px;color:#222;">2025.12.12(금)</div>
<div class="t" style="left:102.0px;top:99.4px;font-size:11px;color:#555;">시</div>
<div class="t" style="left:116.1px;top:98.9px;font-size:12px;color:#e03a3a;">78,500 (+0.90%)</div>
<div class="t" style="left:215.0px;top:99.4px;font-size:11px;color:#555;">고</div>
<div class="t" style="left:230.0px;top:98.9px;font-size:12px;color:#e03a3a;">84,000 (+7.97%)</div>
<div class="t" style="left:329.0px;top:99.4px;font-size:11px;color:#555;">저</div>
<div class="t" style="left:344.0px;top:98.9px;font-size:12px;color:#2f7fe8;">77,000 (−1.03%)</div>
<div class="t" style="left:443.0px;top:99.4px;font-size:11px;color:#555;">종</div>
<div class="t" style="left:457.8px;top:98.9px;font-size:12px;color:#e03a3a;">82,100 (+5.53%)</div>
<div class="t" style="left:13.7px;top:121.1px;font-size:11.4px;color:#666;">단순이동평균</div>
<div class="t" style="left:83.1px;top:120.9px;font-size:11.8px;color:#a6a6a6;">(5, 10, 20, 60, 120, 240, 480)</div>
<div class="t" style="left:243.4px;top:120.8px;font-size:12px;color:#29b6f6;">78,360</div>
<div class="t" style="left:289.5px;top:120.8px;font-size:12px;color:#3b2fe0;">76,740</div>
<div class="t" style="left:335.8px;top:120.8px;font-size:12px;color:#e040fb;">71,775</div>
<div class="t" style="left:381.5px;top:120.8px;font-size:12px;color:#faf3f3;">67,033</div>
<div class="t" style="left:427.5px;top:120.8px;font-size:12px;color:#f3f7ef;">47,479</div>
<div class="t" style="left:474.2px;top:120.8px;font-size:12px;color:#222;">36,286</div>
<div class="t" style="left:520.2px;top:120.8px;font-size:12px;color:#e8212b;">31,907</div>
<div class="t" style="left:448.0px;top:140.3px;font-size:9.8px;color:#e03c3c;">최고</div>
<div class="t" style="left:470.8px;top:139.6px;font-size:11.2px;color:#e03c3c;">108,000 (−23.98%) − 2025.11.03</div>
<div class="t" style="left:130.8px;top:546.2px;font-size:9.8px;color:#2f80ed;">최저</div>
<div class="t" style="left:153.5px;top:545.5px;font-size:11.2px;color:#2f80ed;">24,850 (+229.06%) − 2025.08.20</div>
<div class="t" style="left:46.5px;top:578.3px;font-size:17px;color:#e98b8b;letter-spacing:0.5px;-webkit-text-stroke:0.3px currentColor;">알파스퀘어</div>
<div class="t" style="left:-71.1px;width:200px;text-align:center;top:582.6px;font-size:14px;color:#fff;font-weight:bold;">α</div>
<div class="t" style="left:1001.5px;top:131.0px;font-size:10.9px;color:#444;">110,000</div>
<div class="t" style="left:1001.5px;top:178.8px;font-size:10.9px;color:#444;">100,000</div>
<div class="t" style="left:1001.5px;top:227.8px;font-size:10.9px;color:#444;">90,000</div>
<div class="t" style="left:1001.5px;top:325.9px;font-size:10.9px;color:#444;">70,000</div>
<div class="t" style="left:1001.5px;top:374.5px;font-size:10.9px;color:#444;">60,000</div>
<div class="t" style="left:1001.5px;top:423.2px;font-size:10.9px;color:#444;">50,000</div>
<div class="t" style="left:1001.5px;top:471.9px;font-size:10.9px;color:#444;">40,000</div>
<div class="t" style="left:1001.5px;top:520.5px;font-size:10.9px;color:#444;">30,000</div>
<div class="t" style="left:1001.5px;top:569.6px;font-size:10.9px;color:#444;">20,000</div>
<div class="t" style="left:997.7px;top:261.6px;font-size:11px;color:#fff;font-weight:bold;">82,100</div>
<div class="t" style="left:997.7px;top:274.5px;font-size:11px;color:#fff;font-weight:bold;">+5.53%</div>
<div class="t" style="left:1000.9px;top:622.8px;font-size:10.9px;color:#444;">1,000만</div>
<div class="t" style="left:1000.9px;top:663.4px;font-size:10.9px;color:#444;">750만</div>
<div class="t" style="left:1000.9px;top:702.4px;font-size:10.9px;color:#444;">500만</div>
<div class="t" style="left:1000.9px;top:743.3px;font-size:10.9px;color:#444;">250만</div>
<div class="t" style="left:13.0px;top:626.1px;font-size:11.2px;color:#555;">거래량</div>
<div class="t" style="left:55.0px;top:625.7px;font-size:12.1px;color:#e03a3a;">115만 7,853 (+94.07%)</div>
<div class="t" style="left:-69.3px;width:200px;text-align:center;top:797.7px;font-size:11.6px;color:#444;">2025.08.08</div>
<div class="t" style="left:32.9px;width:200px;text-align:center;top:797.7px;font-size:11.6px;color:#444;">2025.08.22</div>
<div class="t" style="left:135.1px;width:200px;text-align:center;top:797.7px;font-size:11.6px;color:#444;">2025.09.04</div>
<div class="t" style="left:237.3px;width:200px;text-align:center;top:797.7px;font-size:11.6px;color:#444;">2025.09.17</div>
<div class="t" style="left:339.5px;width:200px;text-align:center;top:797.7px;font-size:11.6px;color:#444;">2025.09.30</div>
<div class="t" style="left:441.7px;width:200px;text-align:center;top:797.7px;font-size:11.6px;color:#444;">2025.10.20</div>
<div class="t" style="left:543.9px;width:200px;text-align:center;top:797.7px;font-size:11.6px;color:#444;">2025.10.31</div>
<div class="t" style="left:646.1px;width:200px;text-align:center;top:797.7px;font-size:11.6px;color:#444;">2025.11.13</div>
<div class="t" style="left:748.3px;width:200px;text-align:center;top:797.7px;font-size:11.6px;color:#444;">2025.11.26</div>
<div class="t" style="left:850.5px;width:200px;text-align:center;top:797.7px;font-size:11.6px;color:#444;">2025.12.09</div>
</body></html>
